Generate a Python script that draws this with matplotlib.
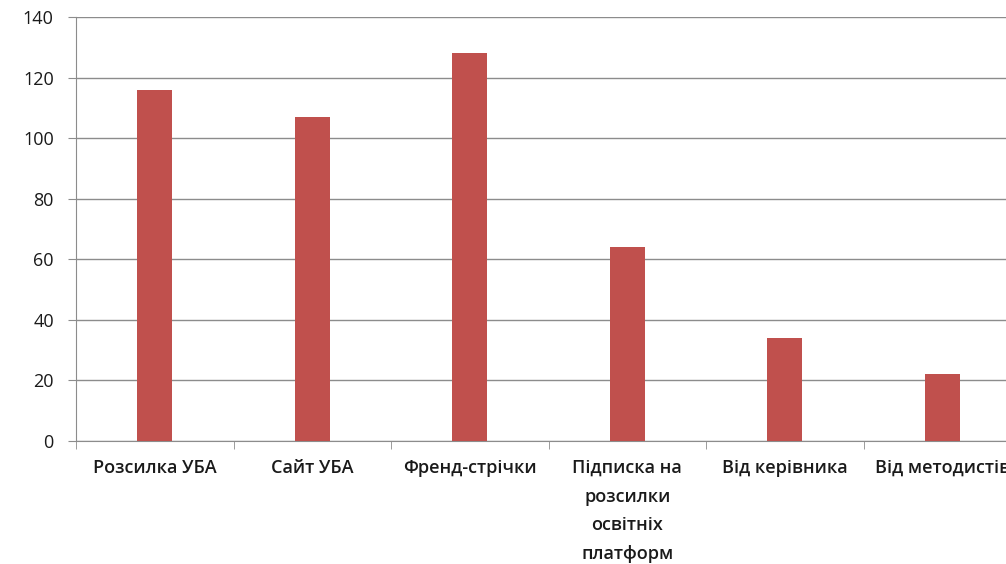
import matplotlib.pyplot as plt
import numpy as np

categories = ['Розсилка УБА', 'Сайт УБА', 'Френд-стрічки',
              'Підписка на\nрозсилки\nосвітніх\nплатформ',
              'Від керівника', 'Від методистів']
values = [116, 107, 128, 64, 34, 22]

plt.rcParams['font.family'] = ['Open Sans', 'DejaVu Sans']

fig = plt.figure(figsize=(10.06, 5.64), dpi=100)
ax = fig.add_axes([76 / 1006, 123 / 564, 945 / 1006, 424 / 564])

x = np.arange(len(categories))
ax.bar(x, values, width=0.22, color='#C0504D', zorder=3)

ax.set_xlim(-0.5, len(categories) - 0.5)
ax.set_ylim(0, 140)
ax.set_yticks(range(0, 141, 20))
ax.yaxis.grid(True, color='#8c8c8c', linewidth=1.0, zorder=0)

ax.set_xticks(x)
ax.set_xticklabels(categories, fontsize=13, fontweight='semibold', color='#1a1a1a',
                   linespacing=1.75)
ax.tick_params(axis='x', length=0, pad=13)
ax.set_xticks(np.arange(-0.5, len(categories), 1), minor=True)
ax.tick_params(axis='x', which='minor', length=6, color='#8c8c8c', direction='out')
ax.tick_params(axis='y', length=6, color='#8c8c8c', labelsize=13, labelcolor='#1a1a1a', pad=10)

for side in ['top', 'right']:
    ax.spines[side].set_visible(False)
for side in ['left', 'bottom']:
    ax.spines[side].set_color('#8c8c8c')

plt.savefig('out.png', dpi=100)
